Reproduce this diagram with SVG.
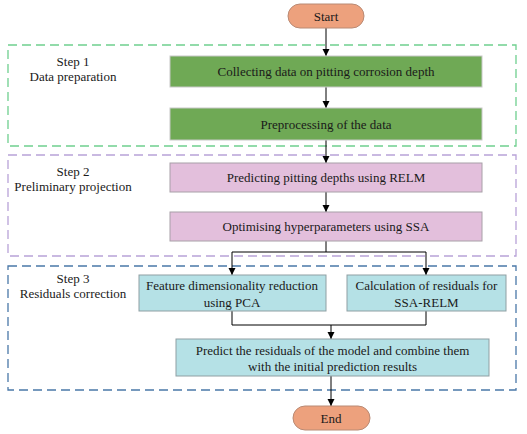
<svg xmlns="http://www.w3.org/2000/svg" width="527" height="434" viewBox="0 0 527 434">
<defs>
<marker id="arr" markerWidth="8" markerHeight="8" refX="7" refY="4" orient="auto" markerUnits="userSpaceOnUse">
<path d="M0,0.5 L7,4 L0,7.5 Z" fill="#000"/>
</marker>
</defs>
<style>
text{font-family:"Liberation Serif","Times New Roman",serif;font-size:13px;fill:#1a1a1a;text-anchor:middle;dominant-baseline:central}
.frame{fill:none;stroke-width:1.3;stroke-dasharray:9 5}
.green{fill:#6fa955;stroke:#c8c8c8;stroke-width:1}
.pink{fill:#e3bfdc;stroke:#a8a0a8;stroke-width:1}
.cyan{fill:#b5e1e6;stroke:#8f9fa3;stroke-width:1}
.term{fill:#eda17d;stroke:#b98a74;stroke-width:1}
.conn{fill:none;stroke:#000;stroke-width:1}
</style>
<g id="frames">
<rect class="frame" x="8" y="45" width="508" height="101" stroke="#6fcf8f"/>
<rect class="frame" x="8" y="155" width="508" height="101" stroke="#b8a2d8"/>
<rect class="frame" x="8" y="266" width="508" height="124" stroke="#4a78a8"/>
</g>
<g id="labels">
<text x="73" y="61">Step 1</text>
<text x="73" y="76">Data preparation</text>
<text x="73" y="171">Step 2</text>
<text x="73" y="186">Preliminary projection</text>
<text x="73" y="278">Step 3</text>
<text x="73" y="293">Residuals correction</text>
</g>
<g id="connectors">
<path class="conn" d="M326,28 V56" marker-end="url(#arr)"/>
<path class="conn" d="M326,87 V108" marker-end="url(#arr)"/>
<path class="conn" d="M326,140 V163" marker-end="url(#arr)"/>
<path class="conn" d="M326,192 V212" marker-end="url(#arr)"/>
<path class="conn" d="M326,241 V252 H232 V275" marker-end="url(#arr)"/>
<path class="conn" d="M326,252 H426 V275" marker-end="url(#arr)"/>
<path class="conn" d="M232,311 V325 H426 V311"/>
<path class="conn" d="M331,325 V339" marker-end="url(#arr)"/>
<path class="conn" d="M331,376 V406" marker-end="url(#arr)"/>
</g>
<g id="start">
<rect class="term" x="288" y="4" width="76" height="24" rx="12"/>
<text x="326" y="16">Start</text>
</g>
<g id="collect">
<rect class="green" x="170" y="56" width="312" height="31"/>
<text x="326" y="71.5">Collecting data on pitting corrosion depth</text>
</g>
<g id="preprocess">
<rect class="green" x="170" y="108" width="312" height="32"/>
<text x="326" y="124">Preprocessing of the data</text>
</g>
<g id="predict">
<rect class="pink" x="170" y="163" width="312" height="29"/>
<text x="326" y="177.5">Predicting pitting depths using RELM</text>
</g>
<g id="optimise">
<rect class="pink" x="170" y="212" width="312" height="29"/>
<text x="326" y="226.5">Optimising hyperparameters using SSA</text>
</g>
<g id="pca">
<rect class="cyan" x="139" y="275" width="187" height="36"/>
<text x="232" y="285">Feature dimensionality reduction</text>
<text x="232" y="302">using PCA</text>
</g>
<g id="residuals">
<rect class="cyan" x="347" y="275" width="159" height="36"/>
<text x="426.5" y="285">Calculation of residuals for</text>
<text x="426.5" y="302">SSA-RELM</text>
</g>
<g id="combine">
<rect class="cyan" x="176" y="339" width="313" height="37"/>
<text x="332.5" y="350">Predict the residuals of the model and combine them</text>
<text x="332.5" y="366">with the initial prediction results</text>
</g>
<g id="end">
<rect class="term" x="293" y="406" width="77" height="24" rx="12"/>
<text x="331" y="418">End</text>
</g>
</svg>
